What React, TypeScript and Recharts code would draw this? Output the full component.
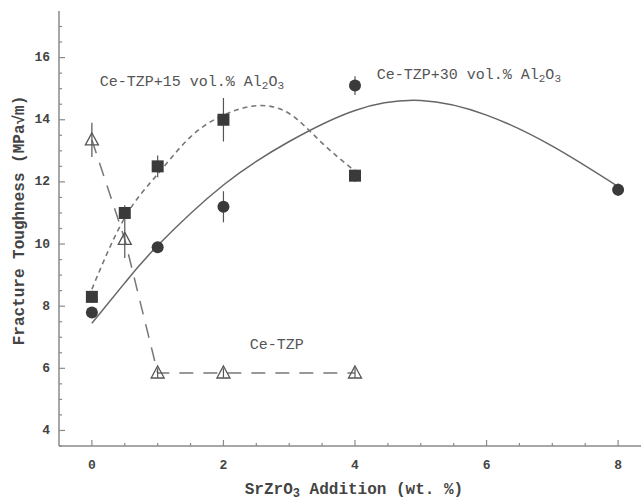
import React from 'react';
import { ComposedChart, Line, Scatter, XAxis, YAxis, ErrorBar, ReferenceDot, Label } from 'recharts';

// ---- data ----
const ceTzpX = [0, 0.5, 1, 2, 4];
const ceTzpY = [13.35, 10.15, 5.85, 5.85, 5.85];
const ceTzpErr = [0.55, 0.6, 0.15, 0.15, 0.15];

const al15X = [0, 0.5, 1, 2, 4];
const al15Y = [8.3, 11.0, 12.5, 14.0, 12.2];
const al15Err = [0.2, 0.25, 0.35, 0.7, 0.2];

const al30X = [0, 1, 2, 4, 8];
const al30Y = [7.8, 9.9, 11.2, 15.1, 11.75];
const al30Err = [0.12, 0.15, 0.5, 0.3, 0.2];

const fit15X = [0, 0.5, 1, 1.5, 2, 2.5, 3, 3.5, 4];
const fit15Y = [8.55, 10.85, 12.25, 13.45, 14.15, 14.45, 14.2, 13.25, 12.35];

const fit30X = [0, 0.5, 1, 2, 3, 4, 5, 6, 7, 8];
const fit30Y = [7.45, 8.75, 9.95, 11.9, 13.3, 14.3, 14.62, 14.15, 13.15, 11.85];

const xTicks = [0, 0.5, 1, 1.5, 2, 2.5, 3, 3.5, 4, 4.5, 5, 5.5, 6, 6.5, 7, 7.5, 8, 8.5];
const xLabels = [0, 2, 4, 6, 8];
const yTicks = [3.5, 4, 4.5, 5, 5.5, 6, 6.5, 7, 7.5, 8, 8.5, 9, 9.5, 10, 10.5, 11, 11.5, 12, 12.5, 13, 13.5, 14, 14.5, 15, 15.5, 16, 16.5, 17];
const yLabels = [4, 6, 8, 10, 12, 14, 16];

const toPts = (xs: number[], ys: number[], es?: number[]) =>
  xs.map((x, i) => ({ x, y: ys[i], e: es ? es[i] : 0 }));

const ceTzp = toPts(ceTzpX, ceTzpY, ceTzpErr);
const al15 = toPts(al15X, al15Y, al15Err);
const al30 = toPts(al30X, al30Y, al30Err);
const fit15 = toPts(fit15X, fit15Y);
const fit30 = toPts(fit30X, fit30Y);

const MONO = '"Liberation Mono", "DejaVu Sans Mono", monospace';
const AXIS = '#8a8a8a';
const INK = '#3a3a3a';

const BottomTick = (p: any) => {
  const v = p.payload.value;
  const major = xLabels.includes(v);
  return (
    <g>
      <line x1={p.x} x2={p.x} y1={p.y} y2={p.y - (major ? 6 : 3)} stroke={AXIS} strokeWidth={1.2} />
      {major && (
        <text x={p.x} y={p.y + 19} textAnchor="middle" dominantBaseline="central" fontFamily={MONO} fontWeight="bold" fontSize={13} fill="#444">
          {v}
        </text>
      )}
    </g>
  );
};

const TopTick = (p: any) => {
  const v = p.payload.value;
  const major = xLabels.includes(v);
  return <line x1={p.x} x2={p.x} y1={p.y} y2={p.y + (major ? 6 : 3)} stroke={AXIS} strokeWidth={1.2} />;
};

const LeftTick = (p: any) => {
  const v = p.payload.value;
  const major = yLabels.includes(v);
  return (
    <g>
      <line x1={p.x} x2={p.x + (major ? 6 : 3)} y1={p.y} y2={p.y} stroke={AXIS} strokeWidth={1.2} />
      {major && (
        <text x={p.x - 9} y={p.y} textAnchor="end" dominantBaseline="central" fontFamily={MONO} fontWeight="bold" fontSize={13} fill="#444">
          {v}
        </text>
      )}
    </g>
  );
};

const Square = (p: any) => <rect x={p.cx - 6} y={p.cy - 6} width={12} height={12} fill={INK} />;
const Dot = (p: any) => <circle cx={p.cx} cy={p.cy} r={6} fill={INK} />;
const Tri = (p: any) => (
  <path d={`M${p.cx},${p.cy - 7} L${p.cx + 6.5},${p.cy + 5} L${p.cx - 6.5},${p.cy + 5} Z`} fill="none" stroke="#555" strokeWidth={1.3} />
);

const SubText = ({ cx, cy, main, tail }: any) => (
  <text x={cx} y={cy} dominantBaseline="central" fontFamily={MONO} fontSize={15} fill="#555">
    <tspan>{main}Al</tspan>
    <tspan dy={4} fontSize={11}>2</tspan>
    <tspan dy={-4}>O</tspan>
    <tspan dy={4} fontSize={11}>3</tspan>
    {tail}
  </text>
);

export default function App() {
  return (
    <div style={{ position: 'absolute', left: 8, top: 8, width: 633, height: 495, overflow: 'hidden', background: '#fff' }}>
      <ComposedChart width={643} height={495} margin={{ top: 3, right: 0, bottom: 0, left: 0 }}>
        <XAxis
          dataKey="x"
          type="number"
          domain={[-0.5, 8.5]}
          ticks={xTicks}
          interval={0}
          allowDataOverflow
          height={57}
          tickSize={0}
          tickMargin={0}
          tickLine={false}
          axisLine={{ stroke: AXIS, strokeWidth: 1.5 }}
          tick={<BottomTick />}
        >
          <Label
            content={(props: any) => {
              const vb = props.viewBox;
              const cx = vb.x + vb.width / 2 - 1;
              const cy = vb.y + 44;
              return (
                <text x={cx} y={cy} textAnchor="middle" dominantBaseline="central" fontFamily={MONO} fontWeight="bold" fontSize={16} fill="#444">
                  <tspan>SrZrO</tspan>
                  <tspan dy={4} fontSize={12}>3</tspan>
                  <tspan dy={-4}> Addition (wt. %)</tspan>
                </text>
              );
            }}
          />
        </XAxis>
        <XAxis
          xAxisId="top"
          orientation="top"
          type="number"
          domain={[-0.5, 8.5]}
          ticks={xTicks}
          interval={0}
          allowDataOverflow
          height={0}
          tickSize={0}
          tickMargin={0}
          tickLine={false}
          axisLine={{ stroke: AXIS, strokeWidth: 1.5 }}
          tick={<TopTick />}
        />
        <YAxis
          dataKey="y"
          type="number"
          domain={[3.5, 17.5]}
          ticks={yTicks}
          interval={0}
          allowDataOverflow
          width={51}
          tickSize={0}
          tickMargin={0}
          tickLine={false}
          axisLine={{ stroke: AXIS, strokeWidth: 1.5 }}
          tick={<LeftTick />}
        >
          <Label
            content={(props: any) => {
              const vb = props.viewBox;
              const cx = 12;
              const cy = vb.y + vb.height / 2 - 8;
              return (
                <text x={cx} y={cy} textAnchor="middle" dominantBaseline="central" transform={`rotate(-90 ${cx} ${cy})`} fontFamily={MONO} fontWeight="bold" fontSize={16} fill="#444">
                  Fracture Toughness (MPa√m)
                </text>
              );
            }}
          />
        </YAxis>

        <Line data={fit30} dataKey="y" type="natural" stroke="#666" strokeWidth={1.5} dot={false} activeDot={false} isAnimationActive={false} />
        <Line data={fit15} dataKey="y" type="natural" stroke="#777" strokeWidth={1.6} strokeDasharray="5 4" dot={false} activeDot={false} isAnimationActive={false} />
        <Line data={ceTzp} dataKey="y" type="linear" stroke="#777" strokeWidth={1.5} strokeDasharray="14 10" dot={false} activeDot={false} isAnimationActive={false} />

        <Scatter data={al30} dataKey="y" shape={<Dot />} isAnimationActive={false}>
          <ErrorBar dataKey="e" direction="y" width={0} stroke="#555" strokeWidth={1.2} />
        </Scatter>
        <Scatter data={al15} dataKey="y" shape={<Square />} isAnimationActive={false}>
          <ErrorBar dataKey="e" direction="y" width={0} stroke="#555" strokeWidth={1.2} />
        </Scatter>
        <Scatter data={ceTzp} dataKey="y" shape={<Tri />} isAnimationActive={false}>
          <ErrorBar dataKey="e" direction="y" width={0} stroke="#555" strokeWidth={1.2} />
        </Scatter>

        <ReferenceDot x={0.12} y={15.23} r={0} ifOverflow="visible" shape={(p: any) => <SubText cx={p.cx} cy={p.cy} main="Ce-TZP+15 vol.% " />} />
        <ReferenceDot x={4.33} y={15.45} r={0} ifOverflow="visible" shape={(p: any) => <SubText cx={p.cx} cy={p.cy} main="Ce-TZP+30 vol.% " />} />
        <ReferenceDot
          x={2.4}
          y={6.73}
          r={0}
          ifOverflow="visible"
          shape={(p: any) => (
            <text x={p.cx} y={p.cy} dominantBaseline="central" fontFamily={MONO} fontSize={15} fill="#555">
              Ce-TZP
            </text>
          )}
        />
      </ComposedChart>
    </div>
  );
}
